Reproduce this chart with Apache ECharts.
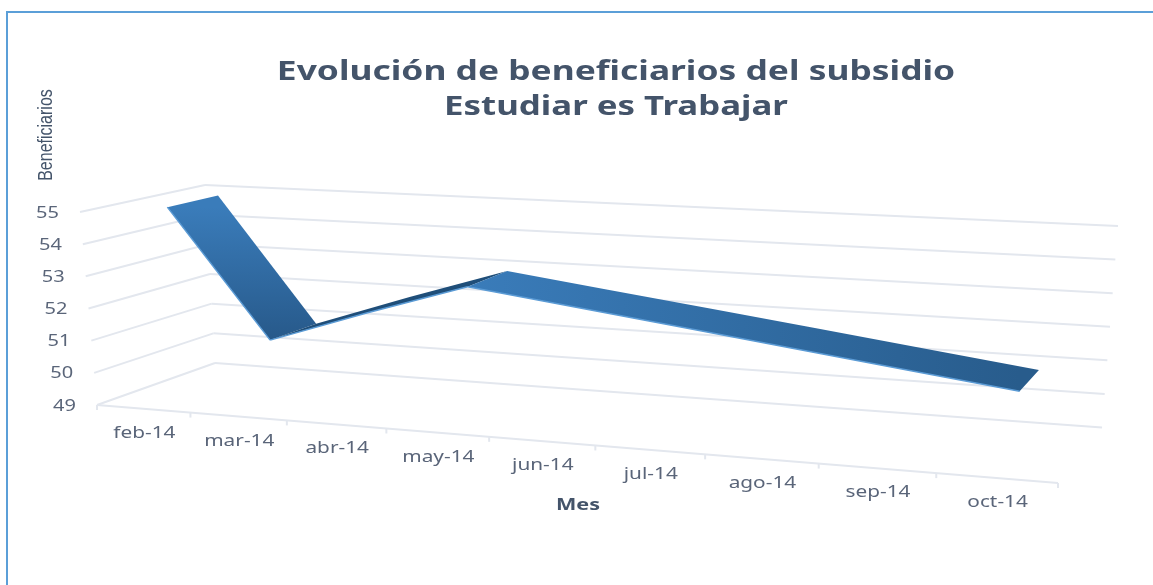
<!DOCTYPE html>
<html lang="es">
<head>
<meta charset="UTF-8">
<title>Beneficiarios</title>
<script src="https://cdn.jsdelivr.net/npm/echarts@6/dist/echarts.min.js"></script>
<style>
  html, body { margin: 0; padding: 0; background: #fff; }
  #main { width: 1153px; height: 585px; }
</style>
</head>
<body>
<div id="main"></div>
<script>
var months = ['feb-14', 'mar-14', 'abr-14', 'may-14', 'jun-14', 'jul-14', 'ago-14', 'sep-14', 'oct-14'];
var beneficiarios = [54.95, 50.95, 52, 53, 52.6, 52.2, 51.8, 51.4, 51];
var yTicks = [49, 50, 51, 52, 53, 54, 55];
var titleLines = ['Evolución de beneficiarios del subsidio', 'Estudiar es Trabajar'];

// floor of the 3d box as seen on screen: front-left, front-right, back-right, back-left
var floorQuad = [[97, 405], [1058, 483], [1102, 427.5], [215, 363]];
// how far a floor corner moves on screen going from min to max of the value axis
var riseQuad = [[-17, -193], [27, -212], [16, -201.5], [-10, -178]];
var ribbonFront = 0.3, ribbonBack = 0.72;
// the ribbon changes shade at these months
var ribbonBands = [[0, 1], [1, 3], [3, 8]];

function quadMap(q) {
    var x0 = q[0][0], y0 = q[0][1], x1 = q[1][0], y1 = q[1][1];
    var x2 = q[2][0], y2 = q[2][1], x3 = q[3][0], y3 = q[3][1];
    var sx = x0 - x1 + x2 - x3, sy = y0 - y1 + y2 - y3;
    var dx1 = x1 - x2, dx2 = x3 - x2, dy1 = y1 - y2, dy2 = y3 - y2;
    var den = dx1 * dy2 - dx2 * dy1;
    var g = (sx * dy2 - dx2 * sy) / den, h = (dx1 * sy - sx * dy1) / den;
    var a = x1 - x0 + g * x1, b = x3 - x0 + h * x3;
    var d = y1 - y0 + g * y1, e = y3 - y0 + h * y3;
    return function (u, w) {
        var k = g * u + h * w + 1;
        return [(a * u + b * w + x0) / k, (d * u + e * w + y0) / k];
    };
}
var floorAt = quadMap(floorQuad);

function riseAt(u, w) {
    return [0, 1].map(function (n) {
        var front = riseQuad[0][n] + (riseQuad[1][n] - riseQuad[0][n]) * u;
        var back = riseQuad[3][n] + (riseQuad[2][n] - riseQuad[3][n]) * u;
        return front + (back - front) * w;
    });
}

// u along months, v up the value axis, w into the depth
function project(u, v, w) {
    var f = floorAt(u, w), r = riseAt(u, w);
    return [f[0] + r[0] * v, f[1] + r[1] * v];
}

// turn a point of the hidden cartesian axes into box coordinates
function boxPos(params, api, cat, val) {
    var p = api.coord([cat, val]), s = params.coordSys;
    return { u: (p[0] - s.x) / s.width, v: 1 - (p[1] - s.y) / s.height };
}

var gridColor = '#e3e7ee', labelColor = '#5a6579';
var labelFont = '"Noto Sans", sans-serif';

function renderFrame(params, api) {
    var kids = [];
    function seg(a, b) {
        kids.push({ type: 'line', shape: { x1: a[0], y1: a[1], x2: b[0], y2: b[1] },
            style: { stroke: gridColor, lineWidth: 2 } });
    }
    yTicks.forEach(function (t) {
        var v = boxPos(params, api, 0, t).v;
        seg(project(0, v, 0), project(0, v, 1));
        seg(project(0, v, 1), project(1, v, 1));
        var lp = project(0, v, 0);
        kids.push({ type: 'text', x: lp[0] - 21, y: lp[1] + 1, scaleX: 1.25,
            style: { text: String(t), fill: labelColor, font: '16px ' + labelFont, align: 'right', verticalAlign: 'middle' } });
    });
    seg(project(0, 0, 0), project(1, 0, 0));
    for (var i = 0; i <= months.length; i++) {
        var a = project(i / months.length, 0, 0);
        seg(a, [a[0], a[1] + 5]);
    }
    months.forEach(function (m, idx) {
        var p = project(boxPos(params, api, idx, 49).u, 0, 0);
        kids.push({ type: 'text', x: p[0] + 1, y: p[1] + 24.5, scaleX: 1.3,
            style: { text: m, fill: labelColor, font: '16px ' + labelFont, align: 'center', verticalAlign: 'middle' } });
    });
    return { type: 'group', children: kids };
}

function ribbonFill(bandIdx, front) {
    var start = front[0], end = front[front.length - 1];
    if (bandIdx === 0) {
        return new echarts.graphic.LinearGradient(0, start[1], 0, end[1],
            [{ offset: 0, color: '#3a7cba' }, { offset: 1, color: '#27598a' }], true);
    }
    if (bandIdx === 1) return '#1f4e79';
    return new echarts.graphic.LinearGradient(start[0], 0, end[0], 0,
        [{ offset: 0, color: '#3a7cba' }, { offset: 1, color: '#285c8c' }], true);
}

function renderRibbon(params, api) {
    var i = api.value(0), bandIdx = -1;
    ribbonBands.forEach(function (b, k) { if (b[0] === i) bandIdx = k; });
    if (bandIdx < 0) return null;
    var front = [], back = [];
    for (var j = ribbonBands[bandIdx][0]; j <= ribbonBands[bandIdx][1]; j++) {
        var b = boxPos(params, api, j, beneficiarios[j]);
        front.push(project(b.u, b.v, ribbonFront));
        back.push(project(b.u, b.v, ribbonBack));
    }
    return { type: 'group', children: [
        { type: 'polygon', shape: { points: front.concat(back.slice().reverse()) }, style: { fill: ribbonFill(bandIdx, front) } },
        { type: 'polyline', shape: { points: front }, style: { fill: null, stroke: '#5b9bd5', lineWidth: 1.5 } }
    ] };
}

var titleFont = 'bold 27px "Noto Sans"';
var myChart = echarts.init(document.getElementById('main'));
myChart.setOption({
    animation: false,
    backgroundColor: '#fff',
    grid: { left: 100, right: 100, top: 100, bottom: 100 },
    xAxis: { type: 'category', data: months, show: false },
    yAxis: { type: 'value', min: 49, max: 55, interval: 1, show: false },
    graphic: [
        { type: 'polyline', shape: { points: [[7, 585], [7, 12], [1153, 12]] }, style: { fill: null, stroke: '#5b9fd8', lineWidth: 2 } },
        { type: 'text', x: 616, y: 72, scaleX: 1.31,
          style: { text: titleLines[0], fill: '#44546a', font: titleFont, align: 'center', verticalAlign: 'middle' } },
        { type: 'text', x: 616, y: 107, scaleX: 1.29,
          style: { text: titleLines[1], fill: '#44546a', font: titleFont, align: 'center', verticalAlign: 'middle' } },
        { type: 'text', x: 46, y: 135, rotation: Math.PI / 2, scaleX: 0.8,
          style: { text: 'Beneficiarios', fill: '#44546a', font: '20px "Liberation Sans"', align: 'center', verticalAlign: 'middle' } },
        { type: 'text', x: 578, y: 505, scaleX: 1.35,
          style: { text: 'Mes', fill: '#44546a', font: 'bold 16px "Noto Sans"', align: 'center', verticalAlign: 'middle' } }
    ],
    series: [
        { type: 'custom', coordinateSystem: 'cartesian2d', clip: false, silent: true, z: 1, renderItem: renderFrame, data: [[0, 49]] },
        { type: 'custom', coordinateSystem: 'cartesian2d', clip: false, silent: true, z: 2, renderItem: renderRibbon,
          data: beneficiarios.map(function (v, i) { return [i, v]; }) }
    ]
});
</script>
</body>
</html>
